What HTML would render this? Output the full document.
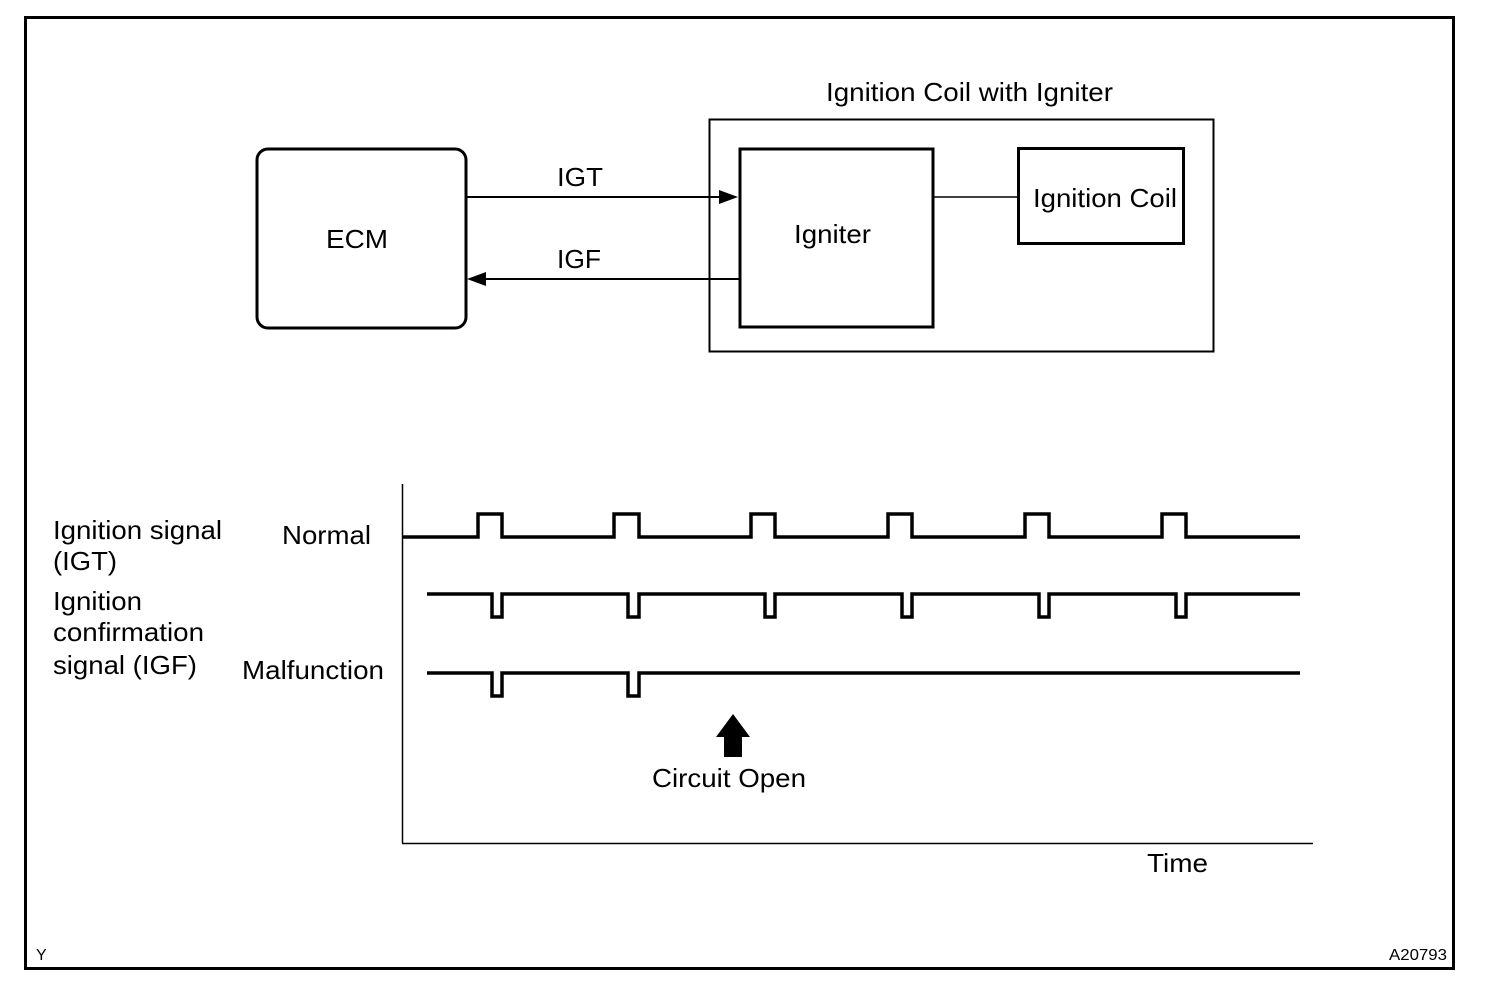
<!DOCTYPE html>
<html><head><meta charset="utf-8"><style>
html,body{margin:0;padding:0;background:#fff}
svg{display:block}
text{font-family:"Liberation Sans",Arial,sans-serif;fill:#000}
</style></head><body>
<svg width="1504" height="996" viewBox="0 0 1504 996" xmlns="http://www.w3.org/2000/svg">
<rect x="25.5" y="17.5" width="1428" height="951" fill="none" stroke="#000" stroke-width="3"/>
<text x="826" y="101" font-size="26" textLength="287" lengthAdjust="spacingAndGlyphs">Ignition Coil with Igniter</text>
<rect x="257" y="149" width="209" height="179" rx="11" fill="none" stroke="#000" stroke-width="3"/>
<text x="326" y="248" font-size="26" textLength="62" lengthAdjust="spacingAndGlyphs">ECM</text>
<rect x="709.5" y="119.5" width="504" height="232" fill="none" stroke="#000" stroke-width="2"/>
<rect x="740" y="149" width="193" height="178" fill="none" stroke="#000" stroke-width="3"/>
<text x="794" y="243" font-size="26" textLength="77" lengthAdjust="spacingAndGlyphs">Igniter</text>
<rect x="1018.5" y="148.5" width="165" height="95" fill="none" stroke="#000" stroke-width="3"/>
<text x="1033" y="207" font-size="26" textLength="144" lengthAdjust="spacingAndGlyphs">Ignition Coil</text>
<line x1="933" y1="197" x2="1018" y2="197" stroke="#000" stroke-width="1.5"/>
<line x1="466" y1="197" x2="722" y2="197" stroke="#000" stroke-width="2"/>
<polygon points="738,197 719,190 719,204" fill="#000"/>
<text x="557" y="186" font-size="26" textLength="46" lengthAdjust="spacingAndGlyphs">IGT</text>
<line x1="482" y1="279" x2="740" y2="279" stroke="#000" stroke-width="2"/>
<polygon points="467,279 486,272 486,286" fill="#000"/>
<text x="557" y="268" font-size="26" textLength="44" lengthAdjust="spacingAndGlyphs">IGF</text>

<line x1="402.5" y1="484" x2="402.5" y2="843" stroke="#000" stroke-width="1.5"/>
<line x1="402" y1="843.5" x2="1313" y2="843.5" stroke="#000" stroke-width="1.5"/>
<g fill="none" stroke="#000" stroke-width="3.5" stroke-linejoin="miter">
<path d="M402 537 H478 V514 H502 V537 H614 V514 H639 V537 H751 V514 H775 V537 H888 V514 H912 V537 H1025 V514 H1049 V537 H1162 V514 H1186 V537 H1300"/>
<path d="M427 594 H492 V617 H502 V594 H628 V617 H639 V594 H765 V617 H775 V594 H902 V617 H912 V594 H1039 V617 H1049 V594 H1176 V617 H1186 V594 H1300"/>
<path d="M427 673 H492 V696 H502 V673 H628 V696 H639 V673 H1300"/>
</g>
<polygon points="733,714 716,737 724,737 724,757 742,757 742,737 750,737" fill="#000"/>
<text x="652" y="787" font-size="26" textLength="154" lengthAdjust="spacingAndGlyphs">Circuit Open</text>
<text x="1147" y="872" font-size="26" textLength="61" lengthAdjust="spacingAndGlyphs">Time</text>
<text x="53" y="539" font-size="26" textLength="169" lengthAdjust="spacingAndGlyphs">Ignition signal</text>
<text x="53" y="570" font-size="26" textLength="64" lengthAdjust="spacingAndGlyphs">(IGT)</text>
<text x="53" y="610" font-size="26" textLength="89" lengthAdjust="spacingAndGlyphs">Ignition</text>
<text x="53" y="641" font-size="26" textLength="151" lengthAdjust="spacingAndGlyphs">confirmation</text>
<text x="53" y="674" font-size="26" textLength="144" lengthAdjust="spacingAndGlyphs">signal (IGF)</text>
<text x="282" y="544" font-size="26" textLength="89" lengthAdjust="spacingAndGlyphs">Normal</text>
<text x="242" y="679" font-size="26" textLength="142" lengthAdjust="spacingAndGlyphs">Malfunction</text>
<text x="36" y="960" font-size="16">Y</text>
<text x="1389" y="960" font-size="16" textLength="58" lengthAdjust="spacingAndGlyphs">A20793</text>
</svg>
</body></html>
